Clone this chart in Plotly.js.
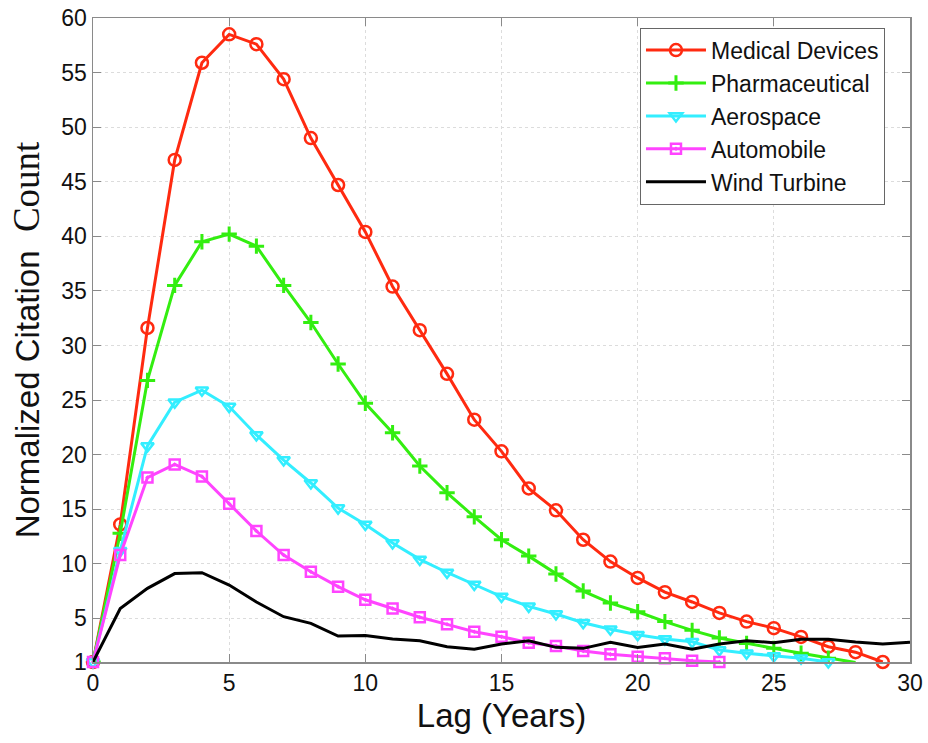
<!DOCTYPE html>
<html>
<head>
<meta charset="utf-8">
<script src="https://cdn.plot.ly/plotly-3.0.1.min.js"></script>
<style>html,body{margin:0;padding:0;background:#fff;}</style>
</head>
<body>
<div id="chart" style="width:928px;height:743px;"></div>
<script>
const lagMedical = [0,1,2,3,4,5,6,7,8,9,10,11,12,13,14,15,16,17,18,19,20,21,22,23,24,25,26,27,28,29];
const medical = [1,13.6,31.6,47.0,55.9,58.5,57.6,54.4,49.0,44.7,40.4,35.4,31.4,27.4,23.2,20.3,16.9,14.9,12.2,10.2,8.7,7.4,6.5,5.5,4.7,4.1,3.3,2.4,1.9,1.0];
const lagPharma = [0,1,2,3,4,5,6,7,8,9,10,11,12,13,14,15,16,17,18,19,20,21,22,23,24,25,26,27,28];
const pharma = [1,12.8,26.8,35.5,39.5,40.2,39.1,35.5,32.1,28.3,24.7,22.0,18.95,16.5,14.3,12.2,10.7,9.06,7.5,6.4,5.6,4.7,3.9,3.2,2.7,2.25,1.8,1.34,0.95];
const lagAero = [0,1,2,3,4,5,6,7,8,9,10,11,12,13,14,15,16,17,18,19,20,21,22,23,24,25,26,27];
const aero = [1,11.2,20.8,24.8,25.9,24.4,21.8,19.5,17.4,15.1,13.6,11.9,10.4,9.2,8.1,7.0,6.1,5.4,4.6,4.0,3.5,3.1,2.86,2.1,1.8,1.55,1.34,1.0];
const lagAuto = [0,1,2,3,4,5,6,7,8,9,10,11,12,13,14,15,16,17,18,19,20,21,22,23];
const auto = [1,10.8,17.9,19.1,18.0,15.5,13.0,10.8,9.27,7.9,6.7,5.9,5.1,4.45,3.77,3.32,2.77,2.47,2.0,1.7,1.49,1.34,1.12,1.0];
const lagWind = [0,1,2,3,4,5,6,7,8,9,10,11,12,13,14,15,16,17,18,19,20,21,22,23,24,25,26,27,28,29,30];
const wind = [1,5.9,7.75,9.1,9.18,8.05,6.5,5.15,4.54,3.38,3.42,3.1,2.95,2.4,2.16,2.65,2.95,2.34,2.25,2.8,2.34,2.65,2.16,2.65,2.95,2.77,3.08,3.08,2.83,2.65,2.8];
const seriesNames = ["Medical Devices","Pharmaceutical","Aerospace","Automobile","Wind Turbine"];
const yTicks = [1,5,10,15,20,25,30,35,40,45,50,55,60];
const xTicks = [0,5,10,15,20,25,30];

const traces = [
  {x: lagMedical, y: medical, name: seriesNames[0], mode: 'lines+markers',
   line: {color: '#ff2a10', width: 3}, marker: {symbol: 'circle-open', size: 12, color: '#ff2a10', line: {width: 2.5}}, cliponaxis: false},
  {x: lagPharma, y: pharma, name: seriesNames[1], mode: 'lines+markers',
   line: {color: '#33ee10', width: 3}, marker: {symbol: 'cross-thin-open', size: 11, color: '#33ee10', line: {width: 3}}, cliponaxis: true},
  {x: lagAero, y: aero, name: seriesNames[2], mode: 'lines+markers',
   line: {color: '#33eeff', width: 3}, marker: {symbol: 'triangle-down-open', size: 11, color: '#33eeff', line: {width: 2.5}}, cliponaxis: false},
  {x: lagAuto, y: auto, name: seriesNames[3], mode: 'lines+markers',
   line: {color: '#ff44ff', width: 3}, marker: {symbol: 'square-open-dot', size: 10, color: '#ff44ff', line: {width: 2.5}}, cliponaxis: false},
  {x: lagWind, y: wind, name: seriesNames[4], mode: 'lines',
   line: {color: '#000000', width: 3}}
];

const axisCommon = {
  showline: true, linecolor: '#8a8a8a', linewidth: 1.5, mirror: 'ticks',
  ticks: 'inside', ticklen: 8, tickcolor: '#8a8a8a', tickwidth: 1,
  showgrid: true, gridcolor: '#dcdcdc', griddash: 'dot', gridwidth: 1,
  zeroline: false,
  tickfont: {family: 'Liberation Sans, Arial, sans-serif', size: 23, color: '#111'}
};

const layout = {
  width: 928, height: 743,
  margin: {l: 93, r: 18, t: 18, b: 81},
  paper_bgcolor: '#fff', plot_bgcolor: '#fff',
  showlegend: true,
  xaxis: Object.assign({}, axisCommon, {
    range: [0, 30], tickvals: xTicks, ticktext: xTicks.map(String),
    title: {text: 'Lag (Years)', font: {family: 'Liberation Sans, Arial, sans-serif', size: 33, color: '#111'}, standoff: 9}
  }),
  yaxis: Object.assign({}, axisCommon, {
    range: [1, 60], tickvals: yTicks, ticktext: yTicks.map(String),
    title: {text: 'Normalized Citation  <span style="font-family:Liberation Serif, Times New Roman, serif;font-size:37px">Count</span>',
            font: {family: 'Liberation Sans, Arial, sans-serif', size: 33, color: '#111'}, standoff: 12}
  }),
  legend: {
    x: 0.6695, y: 0.985, xanchor: 'left', yanchor: 'top',
    bgcolor: '#fff', bordercolor: '#666', borderwidth: 1,
    font: {family: 'Liberation Sans, Arial, sans-serif', size: 23, color: '#111'},
    itemwidth: 60
  }
};

Plotly.newPlot('chart', traces, layout, {displayModeBar: false, staticPlot: true});
</script>
</body>
</html>
